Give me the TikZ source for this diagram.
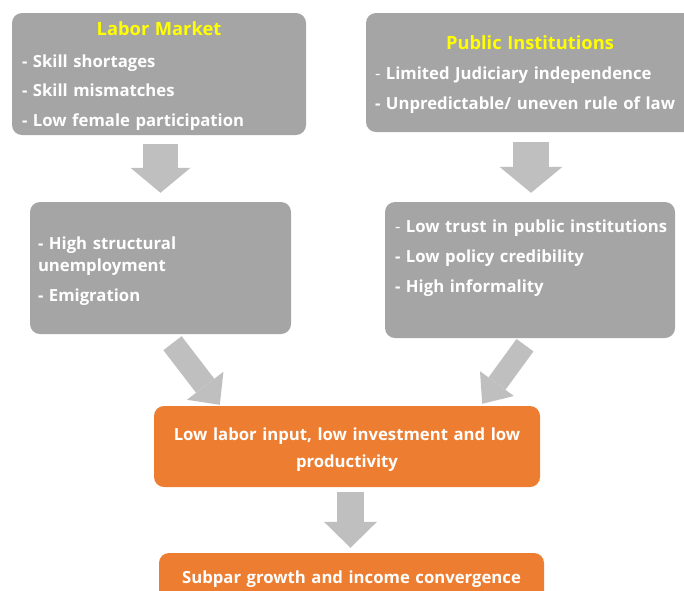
\documentclass[tikz,border=0pt]{standalone}
\usepackage{fontspec}
\setmainfont{Open Sans}
\definecolor{boxgray}{HTML}{A5A5A5}
\definecolor{arrowgray}{HTML}{BFBFBF}
\definecolor{causeorange}{HTML}{ED7D31}
\definecolor{headyellow}{HTML}{FFFF00}
\usetikzlibrary{
  positioning,
  arrows.meta,
  calc
}
\hyphenpenalty=10000
\newcommand{\boxtitle}[1]{\makebox[\linewidth]{\fontsize{18.3}{22}\selectfont\textcolor{headyellow}{#1}}}

\begin{document}
\begin{tikzpicture}[
  x=1pt, y=-1pt,
  greybox/.style={
    rectangle, rounded corners=10pt, fill=boxgray, text=white,
    font=\fontsize{16.7}{22}\selectfont\bfseries, align=left,
    inner xsep=10pt, inner ysep=0pt, text height=18.5pt
  },
  orangebox/.style={
    rectangle, rounded corners=10pt, fill=causeorange, text=white,
    font=\fontsize{16.7}{27}\selectfont\bfseries, align=center,
    inner xsep=10pt, inner ysep=0pt, text height=19pt
  },
  bigarrow/.style={draw=arrowgray, line cap=butt}
]
\useasboundingbox (0,0) rectangle (684,590);

% grey boxes: causes
\node[greybox, minimum width=294pt, minimum height=122pt, text width=274pt]
  (labor) at (159,74) {\boxtitle{Labor Market}\\[9.5pt]
  - Skill shortages\\[7.5pt]
  - Skill mismatches\\[7.5pt]
  - Low female participation};
\node[greybox, minimum width=328pt, minimum height=119pt, text width=310pt,
  inner xsep=9pt] (pubinst) at (530,72.5) {\boxtitle{Public Institutions}\\[8pt]
  {\mdseries -} Limited Judiciary independence\\[8pt]
  - Unpredictable/ uneven rule of law};
\node[greybox, minimum width=261pt, minimum height=132pt, text width=245pt,
  inner xsep=8pt] (unemp) at (160.5,268) {- High structural\\
  unemployment\\[8pt]
  - Emigration};
\node[greybox, minimum width=290pt, minimum height=136pt, text width=270pt,
  text depth=94.5pt] (trust) at (530,270)
  {\mbox{{\mdseries -} Low trust in public institutions}\\[8pt]
  - Low policy credibility\\[8pt]
  - High informality};

% orange boxes: outcomes
\node[orangebox, minimum width=386pt, minimum height=81pt, text width=366pt]
  (core) at (347,446.5) {Low labor input, low investment and low\\productivity};
\node[orangebox, minimum width=385pt, minimum height=48pt, text width=365pt,
  text height=16.9pt] (growth) at (351.5,577) {Subpar growth and income convergence};

% block arrows
\draw[bigarrow, line width=35pt, shorten <=9pt, shorten >=9pt,
  -{Triangle[length=25pt, width=60pt, line width=0pt]}]
  ([xshift=1.5pt]labor.south) -- ([xshift=1.5pt]labor.south |- unemp.north);
\draw[bigarrow, line width=36pt, shorten <=10pt, shorten >=9pt,
  -{Triangle[length=26pt, width=63pt, line width=0pt]}]
  ([xshift=1pt]pubinst.south) -- ([xshift=1pt]pubinst.south |- trust.north);
\draw[bigarrow, line width=23pt,
  -{Triangle[length=24pt, width=46pt, line width=0pt]}]
  ($(unemp.south)+(12,9)$) -- ($(core.north west)+(66,-1)$);
\draw[bigarrow, line width=21pt,
  -{Triangle[length=25pt, width=42pt, line width=0pt]}]
  ($(trust.south)+(-5,7)$) -- ($(core.north east)+(-58,-2)$);
\draw[bigarrow, line width=27pt, shorten <=5pt, shorten >=5pt,
  -{Triangle[length=26pt, width=53pt, line width=0pt]}]
  ([xshift=3.5pt]core.south) -- ([xshift=3.5pt]core.south |- growth.north);

\end{tikzpicture}
\end{document}
